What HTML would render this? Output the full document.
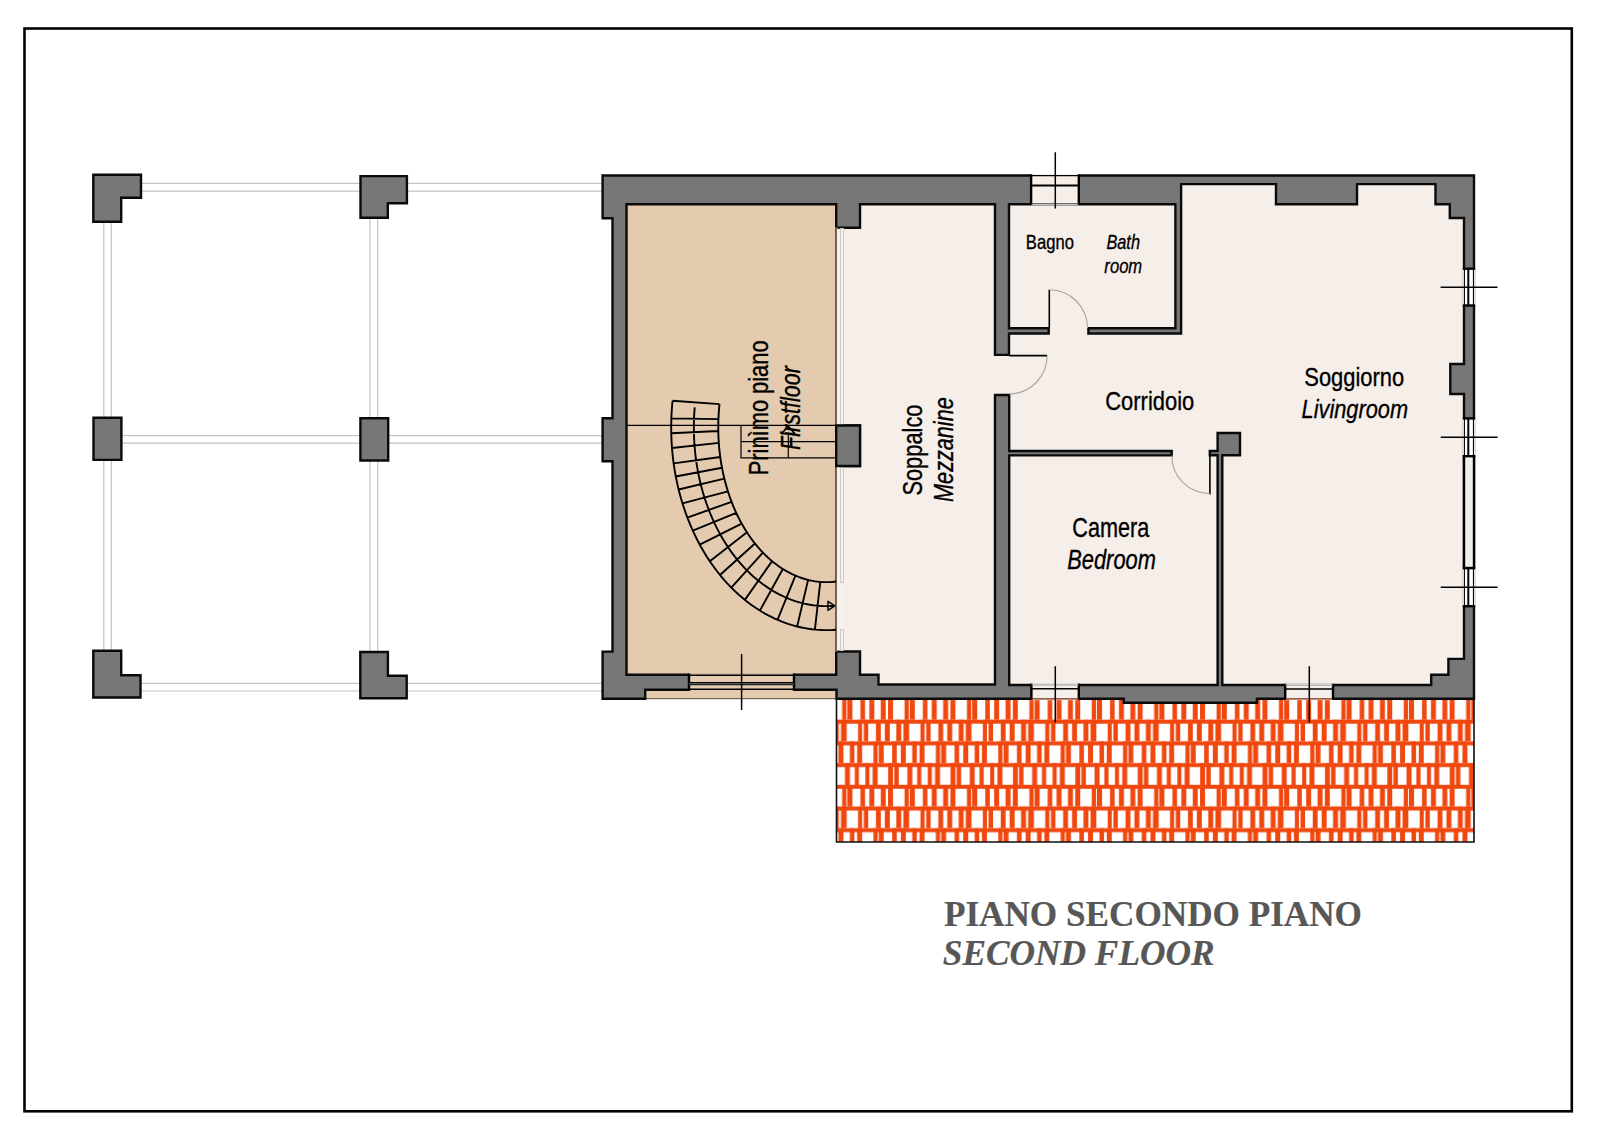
<!DOCTYPE html><html><head><meta charset="utf-8"><style>html,body{margin:0;padding:0;background:#fff;width:1600px;height:1131px;overflow:hidden}svg{display:block}</style></head><body>
<svg width="1600" height="1131" viewBox="0 0 1600 1131">
<rect width="1600" height="1131" fill="#fff"/>
<rect x="24.5" y="28.5" width="1547.3" height="1082.8" fill="none" stroke="#000" stroke-width="2.6"/>
<line x1="141.8" y1="183.4" x2="359.7" y2="183.4" stroke="#c9c1c1" stroke-width="1.2"/>
<line x1="407.7" y1="183.4" x2="602" y2="183.4" stroke="#c9c1c1" stroke-width="1.2"/>
<line x1="141.8" y1="191.1" x2="359.7" y2="191.1" stroke="#c9c1c1" stroke-width="1.2"/>
<line x1="407.7" y1="191.1" x2="602" y2="191.1" stroke="#c9c1c1" stroke-width="1.2"/>
<line x1="122.2" y1="435.6" x2="359.6" y2="435.6" stroke="#c9c1c1" stroke-width="1.2"/>
<line x1="389.0" y1="435.6" x2="602" y2="435.6" stroke="#c9c1c1" stroke-width="1.2"/>
<line x1="122.2" y1="443.2" x2="359.6" y2="443.2" stroke="#c9c1c1" stroke-width="1.2"/>
<line x1="389.0" y1="443.2" x2="602" y2="443.2" stroke="#c9c1c1" stroke-width="1.2"/>
<line x1="141.3" y1="683.4" x2="359.5" y2="683.4" stroke="#c9c1c1" stroke-width="1.2"/>
<line x1="407.5" y1="683.4" x2="602" y2="683.4" stroke="#c9c1c1" stroke-width="1.2"/>
<line x1="141.3" y1="691.0" x2="359.5" y2="691.0" stroke="#c9c1c1" stroke-width="1.2"/>
<line x1="407.5" y1="691.0" x2="602" y2="691.0" stroke="#c9c1c1" stroke-width="1.2"/>
<line x1="103.8" y1="222.5" x2="103.8" y2="417" stroke="#c9c1c1" stroke-width="1.2"/>
<line x1="103.8" y1="460.7" x2="103.8" y2="650" stroke="#c9c1c1" stroke-width="1.2"/>
<line x1="111.3" y1="222.5" x2="111.3" y2="417" stroke="#c9c1c1" stroke-width="1.2"/>
<line x1="111.3" y1="460.7" x2="111.3" y2="650" stroke="#c9c1c1" stroke-width="1.2"/>
<line x1="370.0" y1="218.5" x2="370.0" y2="417.5" stroke="#c9c1c1" stroke-width="1.2"/>
<line x1="370.0" y1="461.3" x2="370.0" y2="651.2" stroke="#c9c1c1" stroke-width="1.2"/>
<line x1="377.7" y1="218.5" x2="377.7" y2="417.5" stroke="#c9c1c1" stroke-width="1.2"/>
<line x1="377.7" y1="461.3" x2="377.7" y2="651.2" stroke="#c9c1c1" stroke-width="1.2"/>
<polygon points="93.3,174.8 93.3,221.7 121.2,221.7 121.2,197.7 141.0,197.7 141.0,174.8" fill="#777777" stroke="#0a0a0a" stroke-width="2.4" stroke-linejoin="miter"/>
<polygon points="360.5,176.1 360.5,217.7 387.8,217.7 387.8,203.2 406.9,203.2 406.9,176.1" fill="#777777" stroke="#0a0a0a" stroke-width="2.4" stroke-linejoin="miter"/>
<polygon points="93.5,417.8 93.5,459.9 121.4,459.9 121.4,417.8" fill="#777777" stroke="#0a0a0a" stroke-width="2.4" stroke-linejoin="miter"/>
<polygon points="360.4,418.3 360.4,460.5 388.2,460.5 388.2,418.3" fill="#777777" stroke="#0a0a0a" stroke-width="2.4" stroke-linejoin="miter"/>
<polygon points="93.3,650.8 93.3,697.5 140.5,697.5 140.5,675.3 121.2,675.3 121.2,650.8" fill="#777777" stroke="#0a0a0a" stroke-width="2.4" stroke-linejoin="miter"/>
<polygon points="360.3,652.0 360.3,698.2 406.7,698.2 406.7,675.8 387.9,675.8 387.9,652.0" fill="#777777" stroke="#0a0a0a" stroke-width="2.4" stroke-linejoin="miter"/>
<defs><pattern id="tiles" patternUnits="userSpaceOnUse" x="836.5" y="698.0" width="62.4" height="86.8"><rect x="0" y="0.00" width="62.4" height="4.0" fill="#f0470f"/><rect x="5.65" y="0.00" width="4.20" height="21.7" fill="#f0470f"/><rect x="-56.75" y="0.00" width="4.20" height="21.7" fill="#f0470f"/><rect x="10.75" y="0.00" width="5.20" height="21.7" fill="#f0470f"/><rect x="-51.65" y="0.00" width="5.20" height="21.7" fill="#f0470f"/><rect x="23.95" y="0.00" width="4.60" height="21.7" fill="#f0470f"/><rect x="-38.45" y="0.00" width="4.60" height="21.7" fill="#f0470f"/><rect x="32.85" y="0.00" width="5.00" height="21.7" fill="#f0470f"/><rect x="-29.55" y="0.00" width="5.00" height="21.7" fill="#f0470f"/><rect x="44.25" y="0.00" width="5.00" height="21.7" fill="#f0470f"/><rect x="-18.15" y="0.00" width="5.00" height="21.7" fill="#f0470f"/><rect x="51.55" y="0.00" width="5.00" height="21.7" fill="#f0470f"/><rect x="-10.85" y="0.00" width="5.00" height="21.7" fill="#f0470f"/><rect x="0" y="21.70" width="62.4" height="4.0" fill="#f0470f"/><rect x="4.45" y="21.70" width="5.80" height="21.7" fill="#f0470f"/><rect x="-57.95" y="21.70" width="5.80" height="21.7" fill="#f0470f"/><rect x="21.55" y="21.70" width="4.10" height="21.7" fill="#f0470f"/><rect x="-40.85" y="21.70" width="4.10" height="21.7" fill="#f0470f"/><rect x="27.25" y="21.70" width="4.50" height="21.7" fill="#f0470f"/><rect x="-35.15" y="21.70" width="4.50" height="21.7" fill="#f0470f"/><rect x="39.45" y="21.70" width="4.90" height="21.7" fill="#f0470f"/><rect x="-22.95" y="21.70" width="4.90" height="21.7" fill="#f0470f"/><rect x="48.35" y="21.70" width="5.00" height="21.7" fill="#f0470f"/><rect x="-14.05" y="21.70" width="5.00" height="21.7" fill="#f0470f"/><rect x="59.75" y="21.70" width="5.00" height="21.7" fill="#f0470f"/><rect x="-2.65" y="21.70" width="5.00" height="21.7" fill="#f0470f"/><rect x="0" y="43.40" width="62.4" height="4.0" fill="#f0470f"/><rect x="1.95" y="43.40" width="5.00" height="21.7" fill="#f0470f"/><rect x="-60.45" y="43.40" width="5.00" height="21.7" fill="#f0470f"/><rect x="13.35" y="43.40" width="4.60" height="21.7" fill="#f0470f"/><rect x="-49.05" y="43.40" width="4.60" height="21.7" fill="#f0470f"/><rect x="20.65" y="43.40" width="5.00" height="21.7" fill="#f0470f"/><rect x="-41.75" y="43.40" width="5.00" height="21.7" fill="#f0470f"/><rect x="36.95" y="43.40" width="4.20" height="21.7" fill="#f0470f"/><rect x="-25.45" y="43.40" width="4.20" height="21.7" fill="#f0470f"/><rect x="42.25" y="43.40" width="5.00" height="21.7" fill="#f0470f"/><rect x="-20.15" y="43.40" width="5.00" height="21.7" fill="#f0470f"/><rect x="55.65" y="43.40" width="4.60" height="21.7" fill="#f0470f"/><rect x="-6.75" y="43.40" width="4.60" height="21.7" fill="#f0470f"/><rect x="0" y="65.10" width="62.4" height="4.0" fill="#f0470f"/><rect x="8.45" y="65.10" width="5.00" height="21.7" fill="#f0470f"/><rect x="-53.95" y="65.10" width="5.00" height="21.7" fill="#f0470f"/><rect x="18.25" y="65.10" width="4.20" height="21.7" fill="#f0470f"/><rect x="-44.15" y="65.10" width="4.20" height="21.7" fill="#f0470f"/><rect x="28.85" y="65.10" width="4.10" height="21.7" fill="#f0470f"/><rect x="-33.55" y="65.10" width="4.10" height="21.7" fill="#f0470f"/><rect x="36.15" y="65.10" width="5.00" height="21.7" fill="#f0470f"/><rect x="-26.25" y="65.10" width="5.00" height="21.7" fill="#f0470f"/><rect x="51.65" y="65.10" width="4.90" height="21.7" fill="#f0470f"/><rect x="-10.75" y="65.10" width="4.90" height="21.7" fill="#f0470f"/><rect x="57.75" y="65.10" width="4.50" height="21.7" fill="#f0470f"/><rect x="-4.65" y="65.10" width="4.50" height="21.7" fill="#f0470f"/></pattern></defs>
<rect x="836.5" y="698.7" width="637.5" height="143.29999999999995" fill="#fff"/>
<rect x="836.5" y="698.7" width="637.5" height="143.29999999999995" fill="url(#tiles)"/>
<defs><pattern id="tiles0" patternUnits="userSpaceOnUse" x="836.5" y="690" width="62.4" height="20"><rect x="5.65" y="0" width="4.20" height="20" fill="#f0470f"/><rect x="-56.75" y="0" width="4.20" height="20" fill="#f0470f"/><rect x="10.75" y="0" width="5.20" height="20" fill="#f0470f"/><rect x="-51.65" y="0" width="5.20" height="20" fill="#f0470f"/><rect x="23.95" y="0" width="4.60" height="20" fill="#f0470f"/><rect x="-38.45" y="0" width="4.60" height="20" fill="#f0470f"/><rect x="32.85" y="0" width="5.00" height="20" fill="#f0470f"/><rect x="-29.55" y="0" width="5.00" height="20" fill="#f0470f"/><rect x="44.25" y="0" width="5.00" height="20" fill="#f0470f"/><rect x="-18.15" y="0" width="5.00" height="20" fill="#f0470f"/><rect x="51.55" y="0" width="5.00" height="20" fill="#f0470f"/><rect x="-10.85" y="0" width="5.00" height="20" fill="#f0470f"/></pattern></defs>
<rect x="836.5" y="698.7" width="637.5" height="3.4" fill="#fff"/>
<rect x="836.5" y="698.7" width="637.5" height="3.4" fill="url(#tiles0)"/>
<polyline points="836.5,698.7 836.5,842.0 1474.0,842.0 1474.0,698.7" fill="none" stroke="#111" stroke-width="1.6"/>
<rect x="645.2" y="689.7" width="191.3" height="9" fill="#e4cbb0" stroke="#5a4a3a" stroke-width="1"/>
<polygon points="602.6,175.5 1474.0,175.5 1474.0,698.7 1256.9,698.7 1256.9,702.8 1123.8,702.8 1123.8,698.7 836.5,698.7 836.5,689.7 645.2,689.7 645.2,698.7 602.6,698.7 602.6,651.6 612.5,651.6 612.5,461.2 602.6,461.2 602.6,418.2 612.5,418.2 612.5,218.2 602.6,218.2" fill="#777777" stroke="#0a0a0a" stroke-width="2.4" stroke-linejoin="miter"/>
<polygon points="626.5,204.2 836.2,204.2 836.2,674.7 626.5,674.7" fill="#e4cbb0" stroke="#0a0a0a" stroke-width="2.4" stroke-linejoin="miter"/>
<polygon points="860.0,204.2 995.0,204.2 995.0,354.9 1009.0,354.9 1009.0,333.5 1048.7,333.5 1048.7,328.2 1009.0,328.2 1009.0,204.2 1175.4,204.2 1175.4,328.2 1088.4,328.2 1088.4,333.5 1181.1,333.5 1181.1,184.1 1276.0,184.1 1276.0,204.3 1357.0,204.3 1357.0,184.1 1435.5,184.1 1435.5,204.2 1449.8,204.2 1449.8,218.0 1464.0,218.0 1464.0,364.0 1450.3,364.0 1450.3,394.0 1464.0,394.0 1464.0,658.9 1448.4,658.9 1448.4,674.8 1431.2,674.8 1431.2,685.0 1222.3,685.0 1222.3,455.2 1240.0,455.2 1240.0,433.0 1217.6,433.0 1217.6,451.0 1209.8,451.0 1209.8,455.3 1217.6,455.3 1217.6,685.0 1009.2,685.0 1009.2,455.4 1171.7,455.4 1171.7,451.0 1009.2,451.0 1009.2,395.0 995.0,395.0 995.0,684.5 878.5,684.5 878.5,674.7 860.0,674.7 860.0,651.5 836.2,651.5 836.2,466.0 860.0,466.0 860.0,425.5 836.2,425.5 836.2,227.7 860.0,227.7" fill="#f6eee8" stroke="#0a0a0a" stroke-width="2.4" stroke-linejoin="miter"/>
<rect x="835.2" y="227.7" width="2" height="423.8" fill="#e4cbb0"/>
<line x1="836" y1="227" x2="836" y2="652" stroke="#5d4c3e" stroke-width="1.6"/>
<rect x="837" y="228.8" width="6.5" height="196" fill="#f7f2ed"/>
<rect x="837" y="467" width="6.5" height="183.5" fill="#f7f2ed"/>
<rect x="840.6" y="228.5" width="2.8" height="196.0" fill="none" stroke="#c9c5c2" stroke-width="1"/>
<rect x="840.6" y="467" width="2.8" height="115.60000000000002" fill="none" stroke="#c9c5c2" stroke-width="1"/>
<rect x="840.6" y="629.5" width="2.8" height="21.0" fill="none" stroke="#c9c5c2" stroke-width="1"/>
<polygon points="836.2,425.5 860.0,425.5 860.0,466.0 836.2,466.0" fill="#777777" stroke="#0a0a0a" stroke-width="2.4" stroke-linejoin="miter"/>
<path d="M672.55,400.73 L672.13,405.23 L671.79,409.74 L671.52,414.25 L671.34,418.77 L671.22,423.30 L671.19,427.83 L671.23,432.35 L671.36,436.88 L671.55,441.40 L671.83,445.91 L672.18,450.42 L672.62,454.91 L673.12,459.39 L673.71,463.86 L674.37,468.30 L675.10,472.73 L675.92,477.13 L676.80,481.51 L677.77,485.86 L678.80,490.18 L679.91,494.47 L681.10,498.73 L682.35,502.95 L683.68,507.13 L685.08,511.27 L686.55,515.38 L688.09,519.44 L689.70,523.45 L691.38,527.41 L693.13,531.33 L694.94,535.19 L696.81,539.00 L698.76,542.75 L700.76,546.45 L702.83,550.08 L704.96,553.66 L707.16,557.17 L709.41,560.62 L711.72,564.00 L714.08,567.31 L716.51,570.55 L718.99,573.72 L721.52,576.82 L724.10,579.85 L726.74,582.79 L729.42,585.66 L732.16,588.46 L734.94,591.17 L737.76,593.79 L740.64,596.34 L743.55,598.80 L746.51,601.18 L749.50,603.47 L752.54,605.67 L755.61,607.78 L758.71,609.80 L761.85,611.73 L765.03,613.57 L768.23,615.32 L771.46,616.97 L774.72,618.53 L778.01,619.99 L781.32,621.36 L784.65,622.63 L788.00,623.80 L791.38,624.87 L794.77,625.85 L798.17,626.73 L801.59,627.50 L805.03,628.18 L808.47,628.76 L811.92,629.23 L815.38,629.61 L818.85,629.88 L822.32,630.06 L825.79,630.13 L829.26,630.10 L832.73,629.97 L836.20,629.74 M719.51,404.15 L719.16,407.66 L718.87,411.18 L718.63,414.71 L718.46,418.25 L718.33,421.79 L718.27,425.33 L718.26,428.88 L718.31,432.42 L718.42,435.97 L718.59,439.50 L718.81,443.04 L719.08,446.56 L719.42,450.07 L719.81,453.58 L720.25,457.06 L720.76,460.54 L721.31,463.99 L721.93,467.43 L722.60,470.84 L723.32,474.24 L724.10,477.60 L724.93,480.95 L725.81,484.26 L726.75,487.54 L727.74,490.80 L728.78,494.01 L729.88,497.20 L731.02,500.34 L732.22,503.45 L733.46,506.52 L734.75,509.55 L736.09,512.53 L737.48,515.47 L738.92,518.37 L740.40,521.21 L741.93,524.01 L743.50,526.75 L745.12,529.45 L746.78,532.09 L748.48,534.67 L750.22,537.20 L752.00,539.67 L753.82,542.08 L755.68,544.43 L757.57,546.72 L759.51,548.95 L761.48,551.11 L763.48,553.21 L765.51,555.24 L767.58,557.21 L769.68,559.10 L771.81,560.93 L773.96,562.69 L776.15,564.37 L778.36,565.99 L780.60,567.53 L782.86,568.99 L785.14,570.39 L787.45,571.71 L789.77,572.95 L792.12,574.11 L794.48,575.20 L796.86,576.21 L799.26,577.15 L801.67,578.00 L804.09,578.77 L806.53,579.47 L808.97,580.08 L811.43,580.62 L813.89,581.07 L816.36,581.45 L818.84,581.74 L821.31,581.95 L823.80,582.08 L826.28,582.13 L828.76,582.10 L831.24,581.98 L833.72,581.79 L836.20,581.51 M694.71,407.31 L694.41,411.22 L694.18,415.13 L694.01,419.05 L693.90,422.97 L693.86,426.90 L693.88,430.83 L693.97,434.75 L694.12,438.67 L694.33,442.59 L694.61,446.50 L694.95,450.40 L695.36,454.29 L695.83,458.16 L696.36,462.02 L696.95,465.87 L697.61,469.69 L698.33,473.50 L699.11,477.28 L699.95,481.04 L700.86,484.77 L701.82,488.48 L702.85,492.15 L703.93,495.80 L705.08,499.41 L706.28,502.98 L707.54,506.52 L708.86,510.03 L710.24,513.49 L711.67,516.91 L713.16,520.29 L714.70,523.62 L716.29,526.91 L717.94,530.14 L719.65,533.33 L721.40,536.47 L723.20,539.56 L725.06,542.59 L726.96,545.56 L728.91,548.48 L730.91,551.34 L732.96,554.14 L735.05,556.88 L737.18,559.55 L739.36,562.17 L741.58,564.71 L743.84,567.19 L746.14,569.61 L748.48,571.95 L750.86,574.23 L753.27,576.43 L755.72,578.56 L758.20,580.62 L760.72,582.61 L763.27,584.52 L765.85,586.35 L768.45,588.11 L771.09,589.79 L773.75,591.39 L776.44,592.91 L779.15,594.35 L781.89,595.72 L784.65,597.00 L787.43,598.20 L790.22,599.31 L793.04,600.34 L795.87,601.29 L798.71,602.16 L801.57,602.94 L804.44,603.64 L807.32,604.25 L810.21,604.77 L813.11,605.21 L816.01,605.57 L818.92,605.84 L821.84,606.02 L824.75,606.11 L827.67,606.12 L830.59,606.05 L833.50,605.88 M719.51,404.15 L672.55,400.73 M718.42,419.17 L671.35,418.34 M718.29,431.04 L671.25,433.19 M718.80,442.88 L671.99,448.00 M720.25,457.03 L673.65,463.41 M722.00,467.80 L675.80,476.54 M724.34,478.63 L678.63,489.46 M727.93,491.40 L682.50,503.43 M731.56,501.77 L687.39,517.61 M736.25,512.86 L692.82,530.66 M741.68,523.56 L699.75,544.60 M746.96,532.37 L709.83,561.25 M754.93,543.50 L719.99,574.98 M762.89,552.60 L731.32,587.62 M772.07,561.15 L744.90,599.90 M782.84,568.98 L759.90,610.55 M795.42,575.61 L777.50,619.77 M808.10,579.87 L797.16,626.47 M820.30,581.87 L814.88,629.56" fill="none" stroke="#000" stroke-width="1.9"/>
<polygon points="828,601.3 834.8,605.8 828,610.3" fill="none" stroke="#000" stroke-width="1.5" stroke-linejoin="round"/>
<path d="M626.5,425.4 L836.2,425.4 M741,425.4 L741,457.9 L836.2,457.9 M741,441.7 L836.2,441.7 M788.3,434 L788.3,457.9" fill="none" stroke="#000" stroke-width="1.2"/>
<polygon points="781.5,433.6 788.2,426.2 794.8,433.6" fill="none" stroke="#000" stroke-width="1.6" stroke-linejoin="round"/>
<rect x="1031.1" y="174.0" width="47.700000000000045" height="31.30000000000001" fill="#f6eee8"/>
<line x1="1031.1" y1="174.3" x2="1031.1" y2="205.0" stroke="#000" stroke-width="2.4"/>
<line x1="1078.8" y1="174.3" x2="1078.8" y2="205.0" stroke="#000" stroke-width="2.4"/>
<line x1="1031.1" y1="175.6" x2="1078.8" y2="175.6" stroke="#000" stroke-width="1.1"/>
<line x1="1031.1" y1="185.5" x2="1078.8" y2="185.5" stroke="#000" stroke-width="2.0"/>
<line x1="1031.1" y1="203.7" x2="1078.8" y2="203.7" stroke="#444" stroke-width="1.1"/>
<rect x="689" y="673.2" width="105" height="18.0" fill="#e4cbb0"/>
<line x1="689" y1="673.5" x2="689" y2="690.9000000000001" stroke="#000" stroke-width="2.4"/>
<line x1="794" y1="673.5" x2="794" y2="690.9000000000001" stroke="#000" stroke-width="2.4"/>
<line x1="689" y1="675.3" x2="794" y2="675.3" stroke="#000" stroke-width="1.5"/>
<line x1="689" y1="683.65" x2="794" y2="683.65" stroke="#5a5a5a" stroke-width="2.6"/>
<line x1="689" y1="682.5" x2="794" y2="682.5" stroke="#000" stroke-width="1.1"/>
<line x1="689" y1="684.8" x2="794" y2="684.8" stroke="#111" stroke-width="1.1"/>
<line x1="689" y1="689.3" x2="794" y2="689.3" stroke="#000" stroke-width="1.4"/>
<rect x="1031.4" y="683.3" width="47.399999999999864" height="16.90000000000009" fill="#f6eee8"/>
<line x1="1031.4" y1="683.5999999999999" x2="1031.4" y2="699.9000000000001" stroke="#000" stroke-width="2.4"/>
<line x1="1078.8" y1="683.5999999999999" x2="1078.8" y2="699.9000000000001" stroke="#000" stroke-width="2.4"/>
<line x1="1031.4" y1="685.0" x2="1078.8" y2="685.0" stroke="#999" stroke-width="1.0"/>
<line x1="1031.4" y1="688.8" x2="1078.8" y2="688.8" stroke="#000" stroke-width="1.5"/>
<line x1="1031.4" y1="698.9" x2="1078.8" y2="698.9" stroke="#7a2a10" stroke-width="1.2"/>
<rect x="1285.2" y="683.5" width="47.799999999999955" height="16.700000000000045" fill="#f6eee8"/>
<line x1="1285.2" y1="683.8" x2="1285.2" y2="699.9000000000001" stroke="#000" stroke-width="2.4"/>
<line x1="1333" y1="683.8" x2="1333" y2="699.9000000000001" stroke="#000" stroke-width="2.4"/>
<line x1="1285.2" y1="685.2" x2="1333" y2="685.2" stroke="#999" stroke-width="1.0"/>
<line x1="1285.2" y1="689.0" x2="1333" y2="689.0" stroke="#000" stroke-width="1.5"/>
<line x1="1285.2" y1="698.9" x2="1333" y2="698.9" stroke="#7a2a10" stroke-width="1.2"/>
<rect x="1462.7" y="268.7" width="12.6" height="36.80000000000001" fill="#fff"/>
<line x1="1462.8" y1="268.7" x2="1475.2" y2="268.7" stroke="#000" stroke-width="2.4"/>
<line x1="1462.8" y1="305.5" x2="1475.2" y2="305.5" stroke="#000" stroke-width="2.4"/>
<line x1="1464.4" y1="268.7" x2="1464.4" y2="305.5" stroke="#000" stroke-width="1.1"/>
<line x1="1468.3" y1="268.7" x2="1468.3" y2="305.5" stroke="#000" stroke-width="2.0"/>
<line x1="1473.5" y1="268.7" x2="1473.5" y2="305.5" stroke="#000" stroke-width="1.2"/>
<rect x="1462.7" y="418.4" width="12.6" height="37.80000000000001" fill="#fff"/>
<line x1="1462.8" y1="418.4" x2="1475.2" y2="418.4" stroke="#000" stroke-width="2.4"/>
<line x1="1462.8" y1="456.2" x2="1475.2" y2="456.2" stroke="#000" stroke-width="2.4"/>
<line x1="1464.4" y1="418.4" x2="1464.4" y2="456.2" stroke="#000" stroke-width="1.1"/>
<line x1="1468.3" y1="418.4" x2="1468.3" y2="456.2" stroke="#000" stroke-width="2.0"/>
<line x1="1473.5" y1="418.4" x2="1473.5" y2="456.2" stroke="#000" stroke-width="1.2"/>
<rect x="1462.7" y="568" width="12.6" height="38.200000000000045" fill="#fff"/>
<line x1="1462.8" y1="568" x2="1475.2" y2="568" stroke="#000" stroke-width="2.4"/>
<line x1="1462.8" y1="606.2" x2="1475.2" y2="606.2" stroke="#000" stroke-width="2.4"/>
<line x1="1464.4" y1="568" x2="1464.4" y2="606.2" stroke="#000" stroke-width="1.1"/>
<line x1="1468.3" y1="568" x2="1468.3" y2="606.2" stroke="#000" stroke-width="2.0"/>
<line x1="1473.5" y1="568" x2="1473.5" y2="606.2" stroke="#000" stroke-width="1.2"/>
<rect x="1464" y="456.2" width="10" height="111.8" fill="#f1efec" stroke="#000" stroke-width="2.4"/>
<path d="M1049.3,328.2 L1049.3,289.8 M1009,355.6 L1047.1,355.6 M1209.9,455.4 L1209.9,494.6" fill="none" stroke="#000" stroke-width="1.6"/>
<path d="M1049.3,289.8 A38.2,38.2 0 0 1 1087.5,328.0 M1047.1,355.6 A38.1,38.1 0 0 1 1009.5,393.9 M1171.7,455.4 A38.2,38.2 0 0 0 1209.9,493.6" fill="none" stroke="#a8a4a0" stroke-width="1.1"/>
<path d="M1055.3,152.3 L1055.3,208.4 M741.6,654 L741.6,710 M1055.3,666.3 L1055.3,722.5 M1309.3,666.3 L1309.3,722.5 M1440.6,287.3 L1497.5,287.3 M1440.7,437.3 L1497.6,437.3 M1440.7,587.3 L1497.6,587.3" fill="none" stroke="#000" stroke-width="1.5"/>
<text transform="translate(1105.20,409.60) scale(0.8259,1)" font-family="Liberation Sans" font-size="26.6" font-style="normal" font-weight="normal" fill="#000" stroke="#000" stroke-width="0.35">Corridoio</text>
<text transform="translate(1304.30,386.40) scale(0.8234,1)" font-family="Liberation Sans" font-size="26.6" font-style="normal" font-weight="normal" fill="#000" stroke="#000" stroke-width="0.35">Soggiorno</text>
<text transform="translate(1301.55,418.10) scale(0.8191,1)" font-family="Liberation Sans" font-size="26.6" font-style="italic" font-weight="normal" fill="#000" stroke="#000" stroke-width="0.35">Livingroom</text>
<text transform="translate(1025.87,249.10) scale(0.7908,1)" font-family="Liberation Sans" font-size="21" font-style="normal" font-weight="normal" fill="#000" stroke="#000" stroke-width="0.35">Bagno</text>
<text transform="translate(1106.41,248.80) scale(0.7768,1)" font-family="Liberation Sans" font-size="21" font-style="italic" font-weight="normal" fill="#000" stroke="#000" stroke-width="0.35">Bath</text>
<text transform="translate(1104.37,272.70) scale(0.7908,1)" font-family="Liberation Sans" font-size="21" font-style="italic" font-weight="normal" fill="#000" stroke="#000" stroke-width="0.35">room</text>
<text transform="translate(1072.32,537.20) scale(0.8079,1)" font-family="Liberation Sans" font-size="26.8" font-style="normal" font-weight="normal" fill="#000" stroke="#000" stroke-width="0.35">Camera</text>
<text transform="translate(1067.24,568.80) scale(0.8156,1)" font-family="Liberation Sans" font-size="26.8" font-style="italic" font-weight="normal" fill="#000" stroke="#000" stroke-width="0.35">Bedroom</text>
<text transform="translate(921.50,495.59) rotate(-90) scale(0.8149,1)" font-family="Liberation Sans" font-size="26.8" font-style="normal" stroke="#000" stroke-width="0.35">Soppalco</text>
<text transform="translate(953.30,501.95) rotate(-90) scale(0.8081,1)" font-family="Liberation Sans" font-size="26.8" font-style="italic" stroke="#000" stroke-width="0.35">Mezzanine</text>
<text transform="translate(768.10,475.25) rotate(-90) scale(0.8160,1)" font-family="Liberation Sans" font-size="26.8" font-style="normal" stroke="#000" stroke-width="0.35">Prinìmo piano</text>
<text transform="translate(799.90,450.05) rotate(-90) scale(0.8067,1)" font-family="Liberation Sans" font-size="26.8" font-style="italic" stroke="#000" stroke-width="0.35">Firstfloor</text>
<text transform="translate(943.90,925.60) scale(0.9994,1)" font-family="Liberation Serif" font-size="35.2" font-style="normal" font-weight="bold" fill="#575757" stroke="#575757" stroke-width="0.2">PIANO SECONDO PIANO</text>
<text transform="translate(942.79,965.10) scale(1.0004,1)" font-family="Liberation Serif" font-size="35.3" font-style="italic" font-weight="bold" fill="#575757" stroke="#575757" stroke-width="0.2">SECOND FLOOR</text>
</svg></body></html>
